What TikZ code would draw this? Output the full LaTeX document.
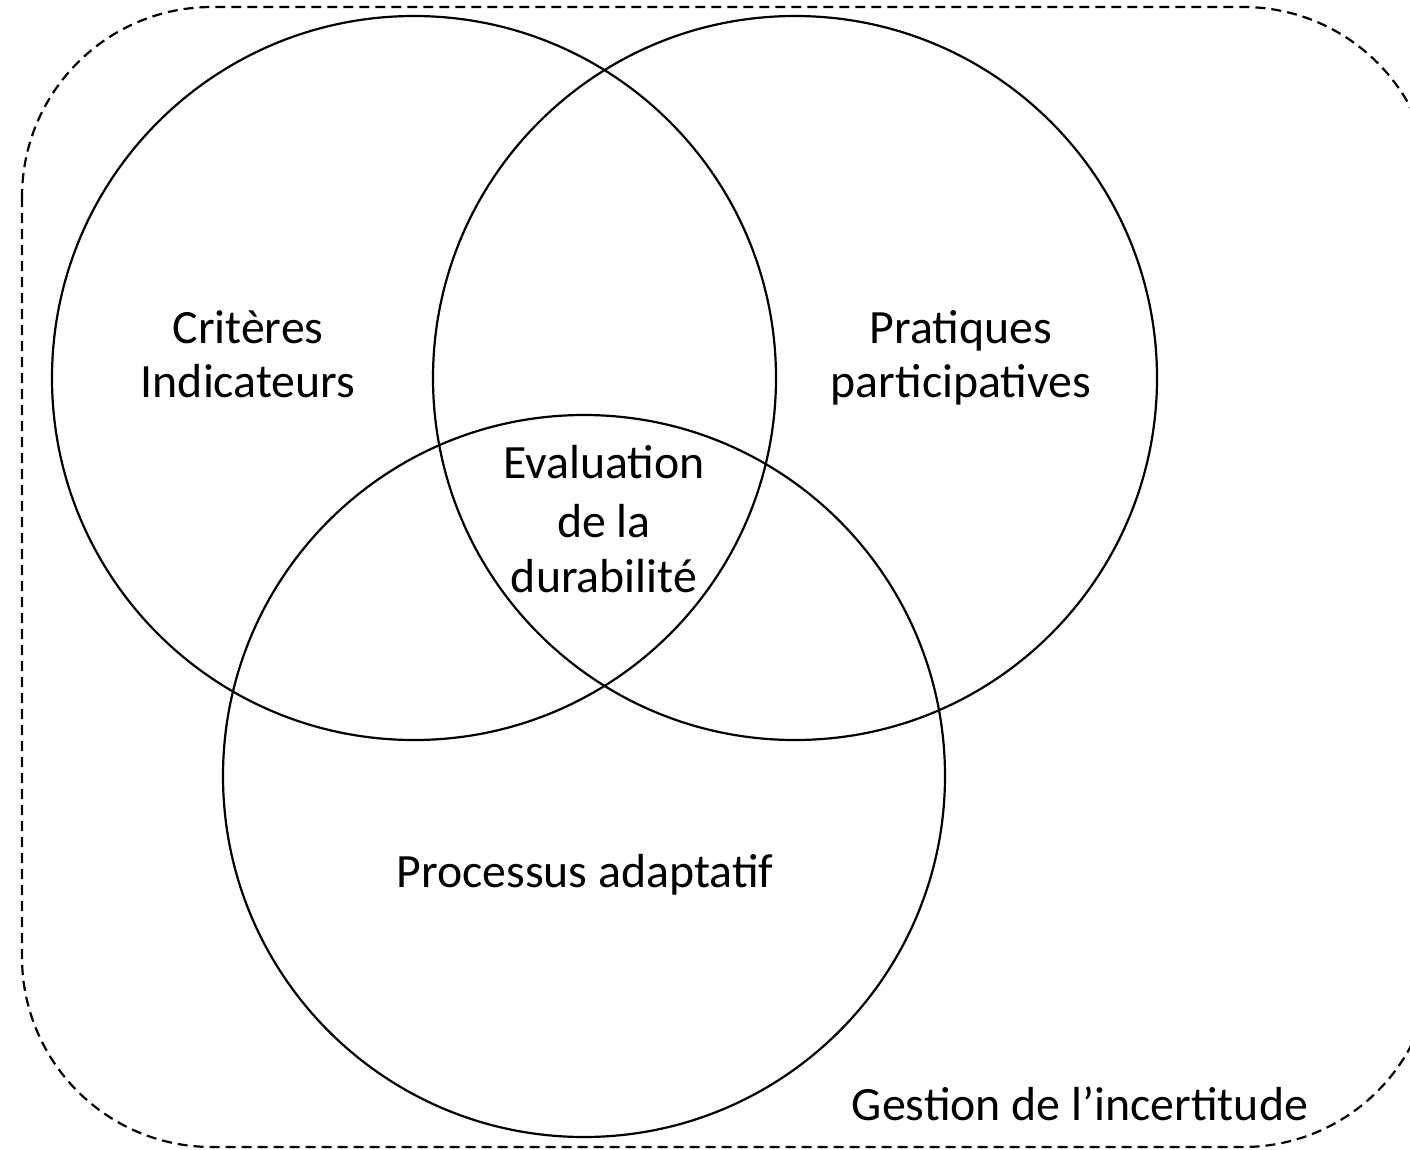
\documentclass[tikz,border=0pt]{standalone}
\usepackage{fontspec}
\setmainfont{Carlito}
\begin{document}
\begin{tikzpicture}[x=1pt,y=-1pt,
  ring/.style={draw=black,line width=2.2pt},
  frame/.style={draw=black,line width=2.2pt,dash pattern=on 10pt off 6pt,rounded corners=190pt},
  lbl/.style={anchor=base,inner sep=0pt,font=\fontsize{47.8}{56}\selectfont}]
\useasboundingbox (0,0) rectangle (1410,1149);
\begin{scope}
\clip (0,0) rectangle (1410,1149);
\draw[frame] (22,7) rectangle (1433,1147);
\end{scope}
\node[ring,circle,minimum size=724pt,inner sep=0pt] (cl) at (414,378) {};
\node[ring,circle,minimum size=724pt,inner sep=0pt] (cr) at (795,378) {};
\node[ring,circle,minimum size=722pt,inner sep=0pt] (cb) at (584,776) {};
\node[lbl] (l1) at (248,343) {Critères};
\node[lbl] (l2) at (248,397) {Indicateurs};
\node[lbl] (r1) at (961,343) {Pratiques};
\node[lbl] (r2) at (961,397) {participatives};
\node[lbl] (m1) at (604,478) {Evaluation};
\node[lbl] (m2) at (604,537) {de la};
\node[lbl] (m3) at (604,592) {durabilité};
\node[lbl] (b1) at (585,887) {Processus adaptatif};
\node[lbl] (g1) at (1080,1120) {Gestion de l’incertitude};
\end{tikzpicture}
\end{document}
